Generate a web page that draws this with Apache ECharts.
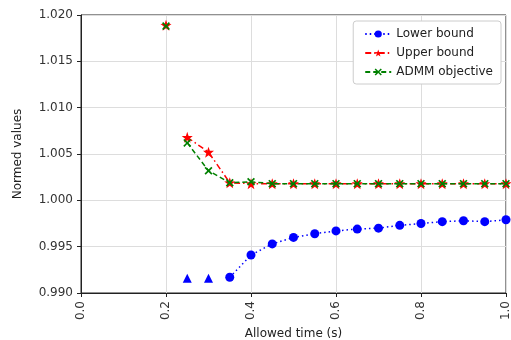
<!DOCTYPE html>
<html><head><meta charset="utf-8">
<script src="https://cdn.jsdelivr.net/npm/echarts@6/dist/echarts.min.js"></script>
<style>html,body{margin:0;padding:0;background:#fff}#c{width:511px;height:340px}</style>
</head><body><div id="c"></div>
<script>
var times = [0.25,0.3,0.35,0.4,0.45,0.5,0.55,0.6,0.65,0.7,0.75,0.8,0.85,0.9,0.95,1.0];
var lowerBound = [null,null,0.9917,0.9941,0.9953,0.9960,0.9964,0.9967,0.9969,0.9970,0.9973,0.9975,0.9977,0.9978,0.9977,0.9979];
var upperBound = [1.0068,1.0052,1.0019,1.0018,1.0018,1.0018,1.0018,1.0018,1.0018,1.0018,1.0018,1.0018,1.0018,1.0018,1.0018,1.0018];
var admmObjective = [1.0062,1.0032,1.0019,1.0020,1.0018,1.0018,1.0018,1.0018,1.0018,1.0018,1.0018,1.0018,1.0018,1.0018,1.0018,1.0018];
var firstTime = 0.2;
var firstUpper = 1.0189;
var firstAdmm = 1.0188;
var triangleTimes = [0.25,0.3];
var triangleValues = [0.9916,0.9916];

var STAR = 'path://M0,-10 L2.35,-3.24 L9.51,-3.09 L3.8,1.24 L5.88,8.09 L0,4 L-5.88,8.09 L-3.8,1.24 L-9.51,-3.09 L-2.35,-3.24 Z';
var XMARK = 'path://M-10,-7 L-7,-10 L0,-3 L7,-10 L10,-7 L3,0 L10,7 L7,10 L0,3 L-7,10 L-10,7 L-3,0 Z';
function pairs(xs, ys){ return xs.map(function(x,i){ return [x, ys[i]]; }); }
var font = 'DejaVu Sans';
var chart = echarts.init(document.getElementById('c'));
chart.setOption({
  animation:false,
  textStyle:{fontFamily:font},
  grid:{left:81,right:5,top:15,bottom:47,outerBoundsMode:'none',containLabel:false,show:true,borderColor:'#222',borderWidth:1,backgroundColor:'transparent'},
  legend:{
    data:['Lower bound','Upper bound','ADMM objective'],
    orient:'vertical', right:10, top:21, itemWidth:26, itemHeight:9, itemGap:7,
    backgroundColor:'#fff', borderColor:'#ccc', borderWidth:1, borderRadius:3, padding:[7,8,6,11],
    textStyle:{fontFamily:font,fontSize:12,color:'#222'}
  },
  xAxis:{type:'value',min:0,max:1,interval:0.2,
    name:'Allowed time (s)',nameLocation:'middle',nameGap:35,nameTextStyle:{fontFamily:font,fontSize:12,color:'#222'},
    axisLine:{show:true,lineStyle:{color:'#222'}},axisTick:{show:true,length:4,lineStyle:{color:'#222'}},
    axisLabel:{rotate:90,fontFamily:font,fontSize:12,color:'#333',formatter:function(v){return v.toFixed(1);}},
    splitLine:{show:true,lineStyle:{color:'#ddd'}}},
  yAxis:{type:'value',min:0.99,max:1.02,interval:0.005,
    name:'Normed values',nameLocation:'middle',nameGap:57,nameTextStyle:{fontFamily:font,fontSize:12,color:'#222'},
    axisLine:{show:true,lineStyle:{color:'#222'}},axisTick:{show:true,length:4,lineStyle:{color:'#222'}},
    axisLabel:{fontFamily:font,fontSize:12,color:'#333',formatter:function(v){return v.toFixed(3);}},
    splitLine:{show:true,lineStyle:{color:'#ddd'}}},
  series:[
    {name:'Lower bound',type:'line',data:pairs(times,lowerBound),connectNulls:false,
      symbol:'circle',symbolSize:9,itemStyle:{color:'#0000ff',opacity:1},
      lineStyle:{color:'#0000ff',width:1.5,type:[1.5,3]},z:3},
    {name:'Upper bound',type:'line',data:pairs(times,upperBound),
      symbol:STAR,symbolSize:11,itemStyle:{color:'#ff0000',opacity:1},
      lineStyle:{color:'#ff0000',width:1.5,type:[6,3,1.5,3]},z:4},
    {name:'ADMM objective',type:'line',data:pairs(times,admmObjective),
      symbol:XMARK,symbolSize:8,itemStyle:{color:'#008000',opacity:1},
      lineStyle:{color:'#008000',width:1.5,type:[5,3]},z:5},
    {name:'ub0',type:'scatter',data:[[firstTime,firstUpper]],symbol:STAR,symbolSize:11,itemStyle:{color:'#ff0000',opacity:1},z:4},
    {name:'adm0',type:'scatter',data:[[firstTime,firstAdmm]],symbol:XMARK,symbolSize:8,itemStyle:{color:'#008000',opacity:1},z:5},
    {name:'tri',type:'scatter',data:pairs(triangleTimes,triangleValues),symbol:'triangle',symbolSize:9,itemStyle:{color:'#0000ff',opacity:1},z:3}
  ]
});
</script></body></html>
